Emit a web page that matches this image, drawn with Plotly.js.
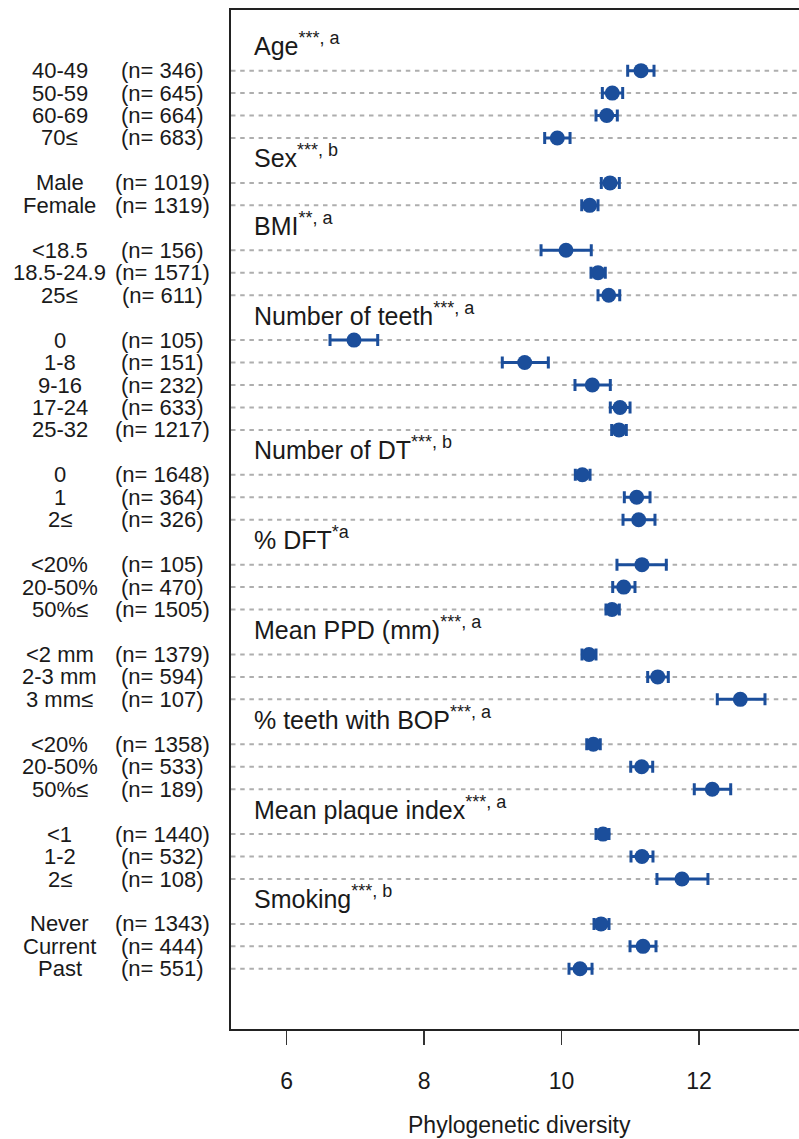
<!DOCTYPE html>
<html>
<head>
<meta charset="utf-8">
<script src="https://cdn.plot.ly/plotly-3.0.1.min.js"></script>
<style>
html,body{margin:0;padding:0;overflow:hidden;background:#fff;}
#chart{width:830px;height:1139px;}
</style>
</head>
<body>
<div id="chart"></div>
<script>
const groupNames = [
  "Age", "Sex", "BMI", "Number of teeth", "Number of DT",
  "% DFT", "Mean PPD (mm)", "% teeth with BOP", "Mean plaque index", "Smoking"
];
const groupMarks = [
  "***, a", "***, b", "**, a", "***, a", "***, b",
  "*a", "***, a", "***, a", "***, a", "***, b"
];
const groupSizes = [4, 2, 3, 5, 3, 3, 3, 3, 3, 3];
const categories = [
  "40-49", "50-59", "60-69", "70≤",
  "Male", "Female",
  "<18.5", "18.5-24.9", "25≤",
  "0", "1-8", "9-16", "17-24", "25-32",
  "0", "1", "2≤",
  "<20%", "20-50%", "50%≤",
  "<2 mm", "2-3 mm", "3 mm≤",
  "<20%", "20-50%", "50%≤",
  "<1", "1-2", "2≤",
  "Never", "Current", "Past"
];
const nValues = [
  346, 645, 664, 683,
  1019, 1319,
  156, 1571, 611,
  105, 151, 232, 633, 1217,
  1648, 364, 326,
  105, 470, 1505,
  1379, 594, 107,
  1358, 533, 189,
  1440, 532, 108,
  1343, 444, 551
];
const means = [
  11.156, 10.738, 10.657, 9.938,
  10.705, 10.409,
  10.064, 10.530, 10.686,
  6.979, 9.463, 10.447, 10.850, 10.836,
  10.302, 11.093, 11.122,
  11.170, 10.904, 10.734,
  10.399, 11.399, 12.601,
  10.462, 11.166, 12.193,
  10.603, 11.170, 11.752,
  10.574, 11.185, 10.268
];
const lower = [
  10.962, 10.593, 10.501, 9.754,
  10.578, 10.293,
  9.701, 10.428, 10.530,
  6.630, 9.137, 10.195, 10.709, 10.729,
  10.200, 10.913, 10.894,
  10.806, 10.744, 10.646,
  10.297, 11.253, 12.266,
  10.366, 11.006, 11.931,
  10.501, 11.010, 11.388,
  10.472, 10.996, 10.108
];
const upper = [
  11.345, 10.889, 10.811, 10.123,
  10.840, 10.530,
  10.432, 10.636, 10.846,
  7.324, 9.807, 10.709, 10.996, 10.942,
  10.414, 11.287, 11.359,
  11.524, 11.068, 10.840,
  10.501, 11.553, 12.960,
  10.563, 11.326, 12.461,
  10.690, 11.330, 12.130,
  10.690, 11.374, 10.443
];
const xTicks = [6, 8, 10, 12];

// layout rows: one header row per group, followed by its items
const headerRows = [];
const itemRows = [];
let r = 0;
groupSizes.forEach(function (sz) {
  headerRows.push(r); r++;
  for (let k = 0; k < sz; k++) { itemRows.push(r); r++; }
});

const blue = "#1b4e9b";
const fontFam = "Liberation Sans, Arial, Helvetica, sans-serif";

const trace = {
  type: "scatter",
  mode: "markers",
  x: means,
  y: itemRows,
  marker: {color: blue, size: 15, line: {width: 0}},
  error_x: {
    type: "data",
    symmetric: false,
    array: means.map(function (m, i) { return upper[i] - m; }),
    arrayminus: means.map(function (m, i) { return m - lower[i]; }),
    color: blue,
    thickness: 3,
    width: 6
  },
  hoverinfo: "skip",
  showlegend: false
};

const shapes = itemRows.map(function (yr) {
  return {
    type: "line", xref: "paper", yref: "y", x0: 0, x1: 1, y0: yr, y1: yr,
    line: {color: "#aeaeae", width: 2, dash: "4.5px,4.7px"}, layer: "below"
  };
});

const annotations = [];
headerRows.forEach(function (yr, g) {
  annotations.push({
    xref: "paper", yref: "y", x: 0.0364, y: yr, xanchor: "left", yanchor: "middle",
    text: groupNames[g] + "<sup><span style='font-size:18px'>" + groupMarks[g] + "</span></sup>",
    showarrow: false, yshift: 4,
    font: {family: fontFam, size: 25, color: "#1a1a1a"}
  });
});
itemRows.forEach(function (yr, i) {
  annotations.push({
    xref: "paper", yref: "y", x: -0.2964, y: yr, xanchor: "center", yanchor: "middle",
    text: categories[i], showarrow: false,
    font: {family: fontFam, size: 22, color: "#1a1a1a"}
  });
  annotations.push({
    xref: "paper", yref: "y", x: -0.1179, y: yr, xanchor: "center", yanchor: "middle",
    text: "(n= " + nValues[i] + ")", showarrow: false,
    font: {family: fontFam, size: 22, color: "#1a1a1a"}
  });
});
annotations.push({
  xref: "paper", yref: "paper", x: 0.5, y: 0, xanchor: "center", yanchor: "middle",
  yshift: -96, text: "Phylogenetic diversity", showarrow: false,
  font: {family: fontFam, size: 23, color: "#1a1a1a"}
});

const layout = {
  width: 830,
  height: 1139,
  margin: {l: 231, r: 22, t: 10, b: 110, pad: 0},
  paper_bgcolor: "#ffffff",
  plot_bgcolor: "#ffffff",
  xaxis: {
    range: [5.189, 13.586],
    tickvals: xTicks,
    ticktext: xTicks.map(String),
    ticks: "outside",
    ticklen: 14,
    tickwidth: 1.5,
    tickcolor: "#333",
    showline: true,
    linecolor: "#222",
    linewidth: 2,
    mirror: true,
    showgrid: false,
    zeroline: false,
    tickfont: {family: fontFam, size: 23, color: "#1a1a1a"},
    ticklabelstandoff: 16
  },
  yaxis: {
    range: [43.68, -1.70],
    showticklabels: false,
    ticks: "",
    showline: true,
    linecolor: "#222",
    linewidth: 2,
    mirror: true,
    showgrid: false,
    zeroline: false
  },
  shapes: shapes,
  annotations: annotations
};

Plotly.newPlot("chart", [trace], layout, {staticPlot: true, displayModeBar: false});
</script>
</body>
</html>
